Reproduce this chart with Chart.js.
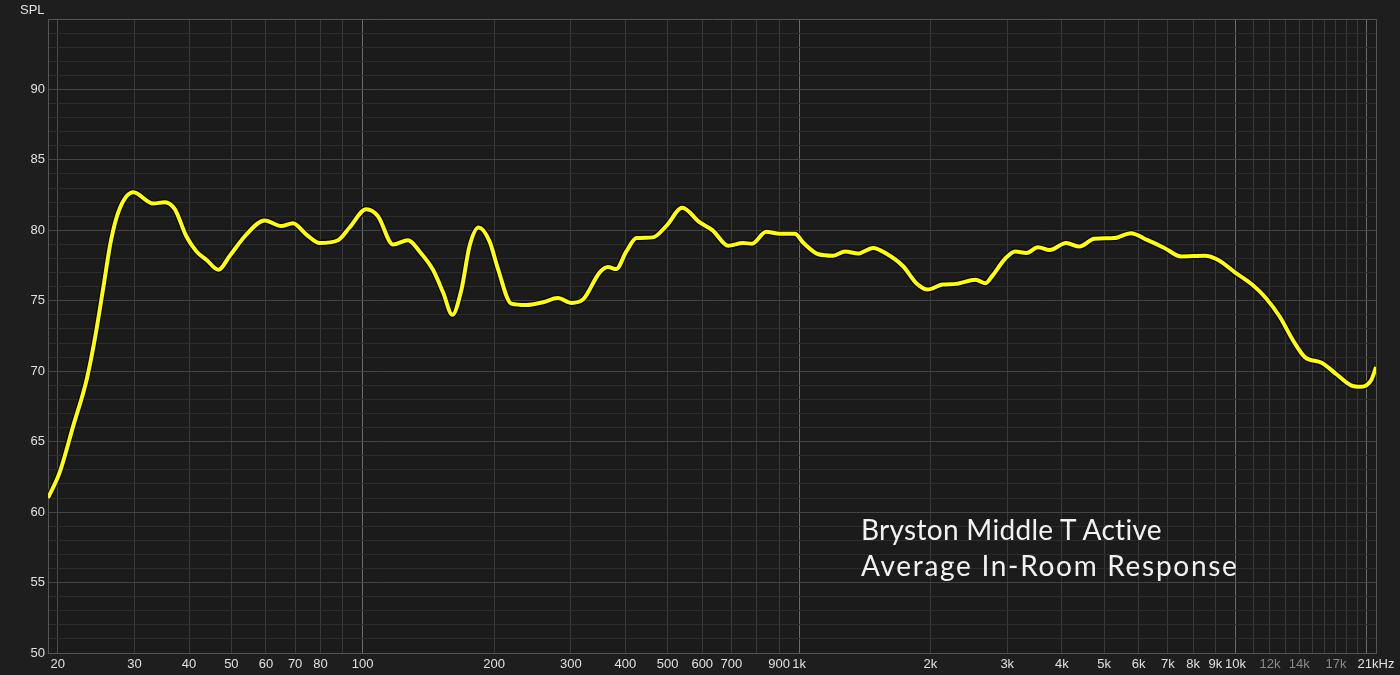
<!DOCTYPE html>
<html>
<head>
<meta charset="utf-8">
<script src="https://cdn.jsdelivr.net/npm/chart.js@4.4.1/dist/chart.umd.min.js"></script>
<style>
  html, body { margin: 0; padding: 0; background: #1e1e1e; }
  #wrap { position: relative; width: 1400px; height: 675px; }
  #yTitle {
    position: absolute; left: 20px; top: 2px;
    font: 13px "Liberation Sans", Arial, sans-serif; color: #e0e0e0;
  }
  #caption {
    position: absolute; left: 861px; top: 511px;
    font: 28px Lato, "Open Sans", sans-serif; color: #f2f2f2;
    line-height: 36px; white-space: nowrap;
  }
  #caption .l1 { letter-spacing: 0.3px; }
  #caption .l2 { letter-spacing: 1.7px; }
</style>
</head>
<body>
<div id="wrap">
  <canvas id="chart" width="1400" height="675"></canvas>
  <div id="yTitle">SPL</div>
  <div id="caption"><div class="l1">Bryston Middle T Active</div><div class="l2">Average In-Room Response</div></div>
</div>
<script>
// Frequency response (Hz / dB SPL)
const freqHz = [19.0, 20.2, 21.7, 23.3, 24.3, 25.4, 26.5, 27.7, 29.8, 33.1, 35.2, 37.1, 39.4, 41.6, 43.9, 46.7, 49.6,
    54.1, 59.6, 65.1, 69.2, 74.3, 79.7, 87.8, 93.3, 101.9, 108.4, 117.3, 127, 135, 144.9, 152.8, 160.5, 168.4,
    175.8, 184.4, 195.4, 204, 219, 237, 259, 280, 301, 320, 349, 365, 381, 402, 424, 462, 496, 540, 590, 634,
    688, 744, 780, 841, 902, 978, 1024, 1108, 1198, 1275, 1365, 1478, 1584, 1732, 1857, 1972, 2132, 2286,
    2538, 2676, 2770, 2970, 3128, 3322, 3530, 3752, 4093, 4392, 4750, 5278, 5760, 6292, 6876, 7508, 8504,
    9132, 9990, 10920, 11740, 12620, 13550, 14430, 15760, 17100, 18400, 19420, 20500, 21000];
const splDb = [61.0, 62.8, 66.1, 69.4, 72.2, 75.8, 79.3, 81.5, 82.7, 81.9, 82.0, 81.5, 79.6, 78.5, 77.9, 77.2, 78.2,
    79.7, 80.7, 80.3, 80.5, 79.7, 79.1, 79.3, 80.2, 81.5, 81.0, 79.0, 79.3, 78.5, 77.2, 75.6, 74.0, 75.8,
    78.9, 80.2, 79.2, 77.3, 74.8, 74.7, 74.9, 75.2, 74.85, 75.1, 77.0, 77.4, 77.25, 78.5, 79.45, 79.5, 80.3,
    81.6, 80.6, 80.0, 78.9, 79.1, 79.05, 79.9, 79.75, 79.75, 79.1, 78.3, 78.2, 78.5, 78.35, 78.75, 78.35,
    77.45, 76.25, 75.8, 76.15, 76.2, 76.5, 76.25, 76.75, 78.0, 78.5, 78.4, 78.8, 78.6, 79.1, 78.85, 79.4,
    79.45, 79.8, 79.3, 78.75, 78.15, 78.2, 77.9, 77.0, 76.15, 75.2, 73.9, 72.2, 71.0, 70.6, 69.75, 69.0,
    68.9, 69.4, 70.3];

// Axis grid / tick labels
const xTickValues = [20, 30, 40, 50, 60, 70, 80, 90, 100, 200, 300, 400, 500, 600, 700, 800, 900,
    1000, 2000, 3000, 4000, 5000, 6000, 7000, 8000, 9000, 10000, 11000, 12000, 13000, 14000, 15000,
    16000, 17000, 18000, 19000, 20000, 21000];
const xTickLabels = ['20', '30', '40', '50', '60', '70', '80', '', '100', '200', '300', '400', '500', '600', '700', '', '900',
    '1k', '2k', '3k', '4k', '5k', '6k', '7k', '8k', '9k', '10k', '', '12k', '', '14k', '',
    '', '17k', '', '', '', '21kHz'];
const dimLabels = ['12k', '14k', '17k'];
const decadeLines = [20, 100, 1000, 10000, 20000];
const yMin = 50, yMax = 95;

const points = freqHz.map((f, i) => ({ x: f, y: splDb[i] }));

const plotBg = {
    id: 'plotBg',
    beforeDraw(chart) {
        const a = chart.chartArea, c = chart.ctx;
        c.save();
        c.fillStyle = '#1b1b1b';
        c.fillRect(a.left, a.top, a.right - a.left, a.bottom - a.top);
        c.restore();
    }
};

new Chart(document.getElementById('chart'), {
    type: 'line',
    data: {
        datasets: [{
            data: points,
            borderColor: '#ffff0a',
            borderWidth: 4,
            pointRadius: 0,
            cubicInterpolationMode: 'monotone'
        }, {
            data: points,
            borderColor: 'rgba(0,0,0,0.8)',
            borderWidth: 6.5,
            pointRadius: 0,
            cubicInterpolationMode: 'monotone'
        }]
    },
    options: {
        responsive: false,
        animation: false,
        devicePixelRatio: 1,
        layout: { padding: { top: 19, right: 24, left: 0, bottom: 0 } },
        plugins: { legend: { display: false }, tooltip: { enabled: false } },
        scales: {
            x: {
                type: 'logarithmic',
                min: 19,
                max: 21000,
                afterBuildTicks: scale => { scale.ticks = xTickValues.map(v => ({ value: v })); },
                afterFit: scale => { scale.height = 22; },
                border: { color: '#555555' },
                grid: {
                    drawTicks: false,
                    color: ctx => {
                        const v = ctx.tick.value;
                        if (v === 21000) return '#555555';
                        if (v === 20) return '#4a4a4a';
                        return decadeLines.includes(v) ? '#6a6a6a' : '#383838';
                    }
                },
                ticks: {
                    autoSkip: false,
                    maxRotation: 0,
                    padding: 4,
                    font: { family: '"Liberation Sans", Arial, sans-serif', size: 13 },
                    color: ctx => dimLabels.includes(xTickLabels[xTickValues.indexOf(ctx.tick.value)]) ? '#8a8a8a' : '#e0e0e0',
                    callback: v => {
                        const i = xTickValues.indexOf(v);
                        return i >= 0 ? xTickLabels[i] : '';
                    }
                }
            },
            y: {
                min: yMin,
                max: yMax,
                afterFit: scale => { scale.width = 48; },
                border: { color: '#555555' },
                grid: {
                    drawTicks: false,
                    color: ctx => {
                        const v = ctx.tick.value;
                        if (v === yMax) return '#555555';
                        return v % 5 === 0 ? '#444444' : '#2c2c2c';
                    }
                },
                ticks: {
                    stepSize: 1,
                    padding: 3,
                    autoSkip: false,
                    font: { family: '"Liberation Sans", Arial, sans-serif', size: 13 },
                    color: '#e0e0e0',
                    callback: v => (v % 5 === 0 && v < yMax) ? v : ''
                }
            }
        }
    },
    plugins: [plotBg]
});
</script>
</body>
</html>
